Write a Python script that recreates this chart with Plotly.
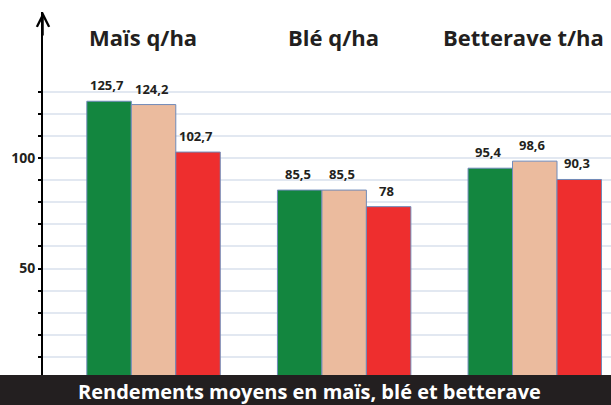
import plotly.graph_objects as go

# ---- data ----
categories = ["Maïs", "Blé", "Betterave"]
titles = ["Maïs q/ha", "Blé q/ha", "Betterave t/ha"]
series_a = [125.7, 85.5, 95.4]
series_b = [124.2, 85.5, 98.6]
series_c = [102.7, 78, 90.3]
labels_a = ["125,7", "85,5", "95,4"]
labels_b = ["124,2", "85,5", "98,6"]
labels_c = ["102,7", "78", "90,3"]
grid_vals = [10, 20, 30, 40, 50, 60, 70, 80, 90, 100, 110, 120, 130]
tick_text = {50: "50", 100: "100"}

# ---- styling ----
W, H = 611, 405
ML, MR, MT, MB = 43, 0, 12, 30
colors = ["#13863f", "#ebbb9e", "#ee2e2e"]
outline = "#6f8ab9"
XR = [-0.58, 2.40]
YR = [1.8, 166.1]
BARGAP = 0.30
FONT = "Open Sans"
DARK = "#231f20"

fig = go.Figure()
all_series = [series_a, series_b, series_c]
all_labels = [labels_a, labels_b, labels_c]
for vals, col in zip(all_series, colors):
    fig.add_trace(go.Bar(
        x=categories, y=vals,
        marker=dict(color=col, line=dict(color=outline, width=1)),
        hoverinfo="skip", showlegend=False,
    ))

plot_w = W - ML - MR
cat_px = plot_w / (XR[1] - XR[0])
bar_px = cat_px * (1 - BARGAP) / 3

annotations = []
for j, (vals, labs) in enumerate(zip(all_series, all_labels)):
    for cat, v, lab in zip(categories, vals, labs):
        annotations.append(dict(
            x=cat, y=v, xref="x", yref="y", text=lab, showarrow=False,
            xshift=(j - 1) * bar_px - 2, yshift=16, yanchor="middle",
            font=dict(family=FONT, size=13, color=DARK, weight="bold"),
        ))
plot_h = H - MT - MB
for cat, t in zip(categories, titles):
    annotations.append(dict(
        x=cat, y=(H - MB - 37) / plot_h, xref="x", yref="paper", text=t,
        showarrow=False, xshift=-11, yanchor="middle",
        font=dict(family=FONT, size=22, color=DARK, weight="bold"),
    ))
# axis arrow
annotations.append(dict(
    x=0, y=1, xref="paper", yref="paper", text="", showarrow=True,
    ax=0, ay=25, arrowhead=5, arrowsize=1.6, arrowwidth=1.5, arrowcolor="black",
))
# banner caption
annotations.append(dict(
    x=(309 - ML) / plot_w, y=-16 / plot_h, xref="paper", yref="paper",
    text="Rendements moyens en maïs, blé et betterave", showarrow=False,
    xanchor="center", yanchor="middle",
    font=dict(family=FONT, size=20, color="white", weight="bold"),
))

fig.update_layout(
    width=W, height=H,
    margin=dict(l=ML, r=MR, t=MT, b=MB, pad=0),
    paper_bgcolor="white", plot_bgcolor="white",
    barmode="group", bargap=BARGAP, bargroupgap=0,
    xaxis=dict(type="category", range=XR, showticklabels=False, showgrid=False,
               zeroline=False, showline=False, fixedrange=True),
    yaxis=dict(range=YR, tickvals=grid_vals,
               ticktext=[tick_text.get(v, "") for v in grid_vals],
               showgrid=True, gridcolor="#e2e8f1", gridwidth=2,
               zeroline=False, showline=True, linecolor="black", linewidth=2,
               ticks="outside", ticklen=3, tickwidth=2, tickcolor="black",
               tickfont=dict(family=FONT, size=14, color=DARK, weight="bold"),
               fixedrange=True),
    shapes=[dict(type="rect", xref="paper", yref="paper",
                 x0=-0.2, x1=1.2, y0=-MB / plot_h - 0.05, y1=0,
                 fillcolor=DARK, line=dict(width=0), layer="above")],
    annotations=annotations,
)

fig.write_html("out.html", config={"displayModeBar": False},
               post_script="document.body.style.margin='0';document.body.style.overflow='hidden';")
